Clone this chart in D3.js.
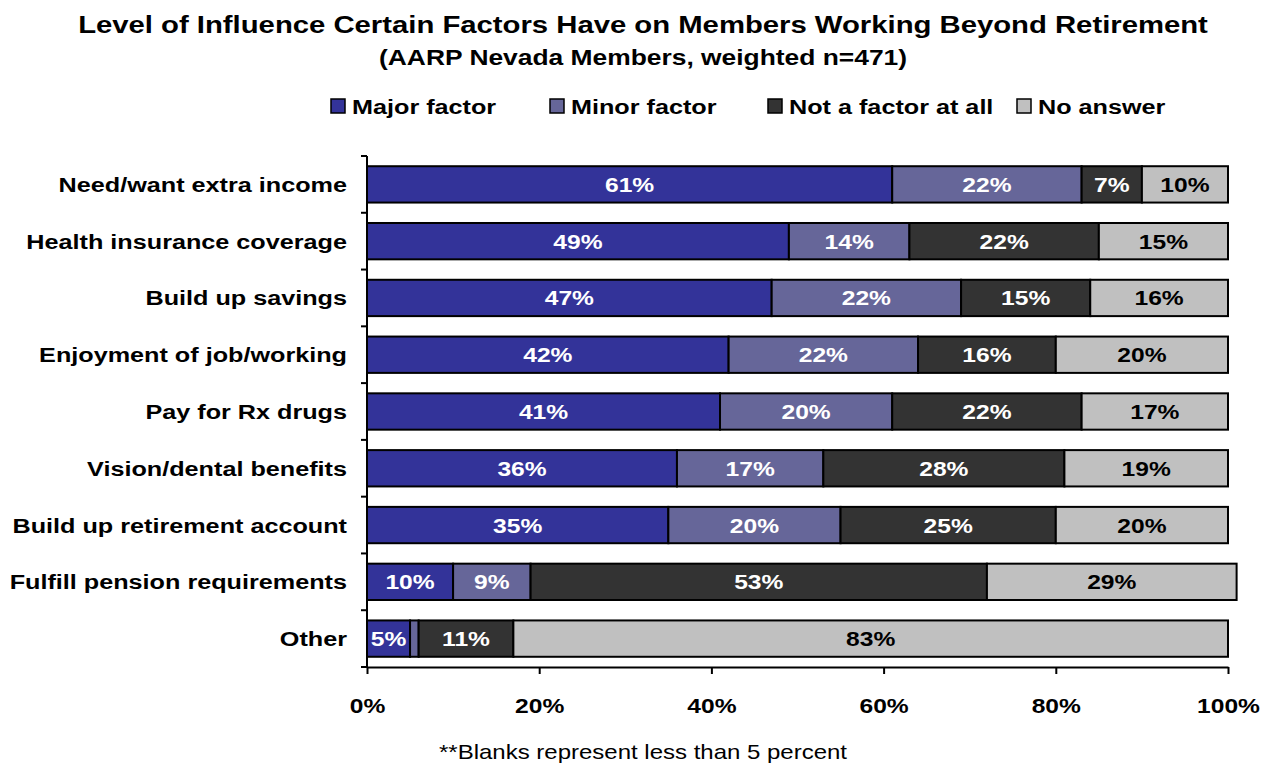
<!DOCTYPE html>
<html>
<head>
<meta charset="utf-8">
<script src="https://cdn.jsdelivr.net/npm/d3@7"></script>
<style>
  body { margin: 0; background: #fff; }
  svg { display: block; font-family: "Liberation Sans", Arial, sans-serif; }
</style>
</head>
<body>
<svg id="chart" width="1275" height="766"></svg>
<script>
// Survey factors, top to bottom
const categories = [
  "Need/want extra income",
  "Health insurance coverage",
  "Build up savings",
  "Enjoyment of job/working",
  "Pay for Rx drugs",
  "Vision/dental benefits",
  "Build up retirement account",
  "Fulfill pension requirements",
  "Other"
];
const seriesNames = ["Major factor", "Minor factor", "Not a factor at all", "No answer"];
const majorFactor  = [61, 49, 47, 42, 41, 36, 35, 10, 5];
const minorFactor  = [22, 14, 22, 22, 20, 17, 20, 9, 1];
const notAFactor   = [7, 22, 15, 16, 22, 28, 25, 53, 11];
const noAnswer     = [10, 15, 16, 20, 17, 19, 20, 29, 83];
const xTicks = [0, 20, 40, 60, 80, 100];

const colors = ["#333399", "#666699", "#333333", "#C0C0C0"];
const textColors = ["#ffffff", "#ffffff", "#ffffff", "#000000"];

const rows = categories.map((c, i) => ({
  category: c,
  "Major factor": majorFactor[i],
  "Minor factor": minorFactor[i],
  "Not a factor at all": notAFactor[i],
  "No answer": noAnswer[i]
}));

const svg = d3.select("#chart");
const margin = { left: 367, right: 47, top: 156, bottom: 99 };
const W = 1275, H = 766;
const SX = 1.2; // horizontal widening applied to all labels

// Text helper: places a label at (x, y) with a wide letterform
function label(parent, x, y, str, size, opts = {}) {
  return parent.append("text")
    .attr("transform", `translate(${x},${y}) scale(${SX},1)`)
    .attr("text-anchor", opts.anchor || "start")
    .attr("font-size", size)
    .attr("font-weight", opts.weight || "bold")
    .attr("fill", opts.fill || "#000")
    .text(str);
}

const x = d3.scaleLinear().domain([0, 100]).range([margin.left, W - margin.right]);
const y = d3.scaleBand().domain(categories).range([margin.top, H - margin.bottom]).paddingInner(0.36).paddingOuter(0.18);

const stack = d3.stack().keys(seriesNames)(rows);

// Title
label(svg, 643, 33, "Level of Influence Certain Factors Have on Members Working Beyond Retirement", 24.4, { anchor: "middle" });
label(svg, 643, 65, "(AARP Nevada Members, weighted n=471)", 22, { anchor: "middle" });

// Legend
const legendX = [331, 550, 768, 1017];
const legend = svg.append("g");
seriesNames.forEach((name, i) => {
  legend.append("rect").attr("x", legendX[i]).attr("y", 99).attr("width", 14).attr("height", 14)
    .attr("fill", colors[i]).attr("stroke", "#000").attr("stroke-width", 1.5);
  label(legend, legendX[i] + 21, 114, name, 21);
});

// Bars
const layers = svg.append("g").selectAll("g").data(stack).join("g")
  .attr("fill", (d, i) => colors[i]);
layers.selectAll("rect").data(d => d.map(v => ({ v, cat: v.data.category }))).join("rect")
  .attr("x", d => x(d.v[0]))
  .attr("y", d => y(d.cat))
  .attr("width", d => x(d.v[1]) - x(d.v[0]))
  .attr("height", y.bandwidth())
  .attr("stroke", "#000").attr("stroke-width", 2);

// Value labels (segments below 5% are left blank)
const valueG = svg.append("g");
stack.forEach((layer, li) => {
  layer.filter(d => d[1] - d[0] >= 5).forEach(d => {
    label(valueG, (x(d[0]) + x(d[1])) / 2, y(d.data.category) + y.bandwidth() / 2 + 7.5,
      `${d[1] - d[0]}%`, 20.5, { anchor: "middle", fill: textColors[li] });
  });
});

// Y axis with ticks on band boundaries
const yAxis = svg.append("g");
yAxis.append("line").attr("x1", margin.left).attr("x2", margin.left)
  .attr("y1", margin.top).attr("y2", H - margin.bottom)
  .attr("stroke", "#000").attr("stroke-width", 2);
const boundaries = d3.range(categories.length + 1).map(i => margin.top + i * (H - margin.top - margin.bottom) / categories.length);
yAxis.selectAll("line.tick").data(boundaries).join("line").attr("class", "tick")
  .attr("x1", margin.left - 6).attr("x2", margin.left)
  .attr("y1", d => d).attr("y2", d => d)
  .attr("stroke", "#000").attr("stroke-width", 2);
categories.forEach(c => {
  label(yAxis, 347, y(c) + y.bandwidth() / 2 + 7.5, c, 21, { anchor: "end" });
});

// X axis
const xAxis = d3.axisBottom(x).tickValues(xTicks).tickFormat(d => d + "%").tickSize(7).tickSizeOuter(0);
const gx = svg.append("g").attr("transform", `translate(0,${H - margin.bottom})`).call(xAxis);
gx.select(".domain").attr("stroke", "#000").attr("stroke-width", 2);
gx.selectAll(".tick line").attr("stroke", "#000").attr("stroke-width", 2);
gx.selectAll(".tick text").attr("font-size", 20.5).attr("font-weight", "bold")
  .attr("fill", "#000").attr("dy", 0).attr("y", 0)
  .attr("transform", `translate(0,46) scale(${SX},1)`)
  .attr("font-family", "Liberation Sans, Arial, sans-serif");

// Footnote
label(svg, 643, 759, "**Blanks represent less than 5 percent", 20, { anchor: "middle", weight: "normal" });
</script>
</body>
</html>
